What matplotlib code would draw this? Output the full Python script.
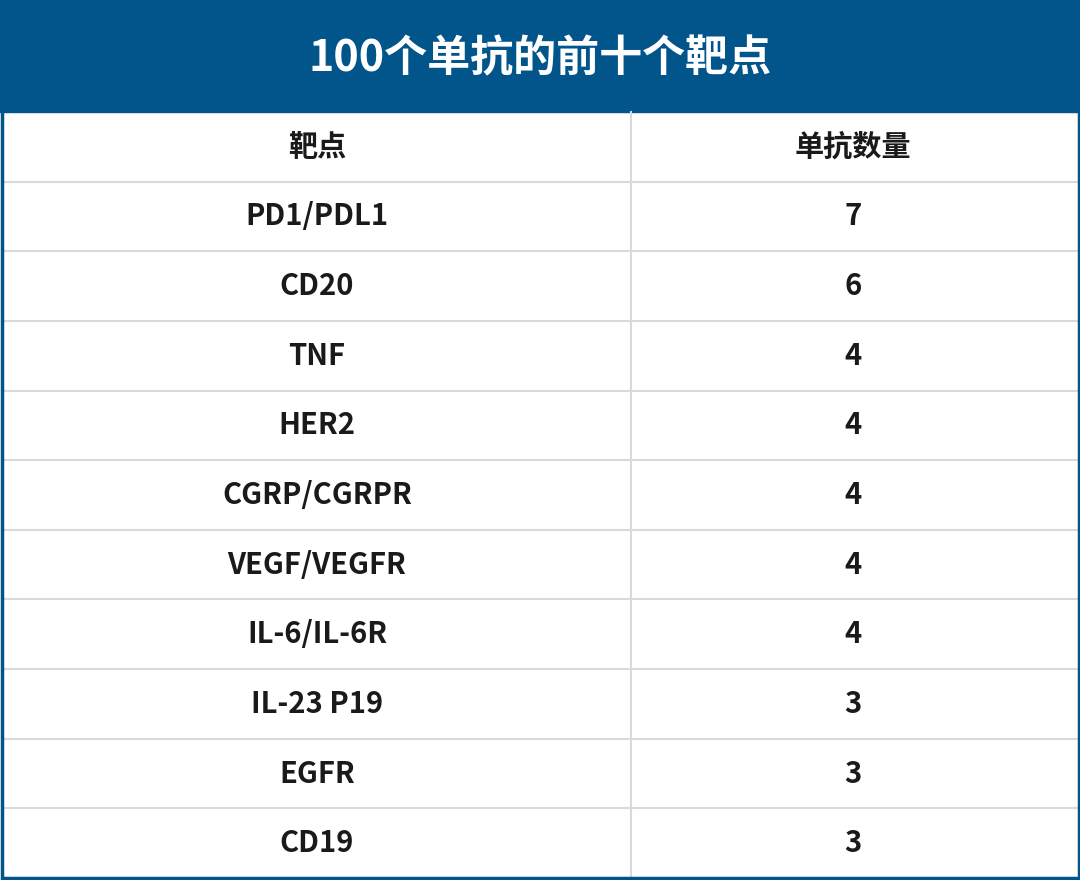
import matplotlib
matplotlib.use("Agg")
import matplotlib.pyplot as plt
from matplotlib.patches import Rectangle

title = "100个单抗的前十个靶点"
col_headers = ["靶点", "单抗数量"]
targets = ["PD1/PDL1", "CD20", "TNF", "HER2", "CGRP/CGRPR", "VEGF/VEGFR",
           "IL-6/IL-6R", "IL-23 P19", "EGFR", "CD19"]
counts = [7, 6, 4, 4, 4, 4, 4, 3, 3, 3]

W, H = 1080, 880
blue = "#02558b"
grid = "#d9d9d9"
font = "Noto Sans CJK SC"

fig = plt.figure(figsize=(W/100, H/100), dpi=100)
ax = fig.add_axes([0, 0, 1, 1])
ax.set_xlim(0, W); ax.set_ylim(H, 0); ax.axis("off")

title_h = 112
row_h = (H - 2 - title_h) / (len(targets) + 1)
col_x = 631
ax.add_patch(Rectangle((0, 0), W, title_h, color=blue, zorder=1))
ax.text(W/2, title_h/2 + 2, title, color="white", fontsize=31, fontweight="bold",
        ha="center", va="center", family=font)

rows = [col_headers] + [[t, str(c)] for t, c in zip(targets, counts)]
for i, (a, b) in enumerate(rows):
    y0 = title_h + i * row_h
    yc = y0 + row_h/2
    ax.text(317, yc, a, fontsize=21, fontweight="bold", ha="center", va="center",
            family=font, color="#1a1a1a")
    ax.text(853, yc, b, fontsize=21, fontweight="bold", ha="center", va="center",
            family=font, color="#1a1a1a")
    if i > 0:
        ax.plot([2, W-2], [y0, y0], color=grid, lw=1.5, zorder=2)
ax.plot([col_x, col_x], [title_h, H-2], color=grid, lw=1.5, zorder=2)
ax.add_patch(Rectangle((1.5, 1.5), W-3, H-3, fill=False, ec=blue, lw=2.5, zorder=3))

fig.savefig("out.png", dpi=100)
